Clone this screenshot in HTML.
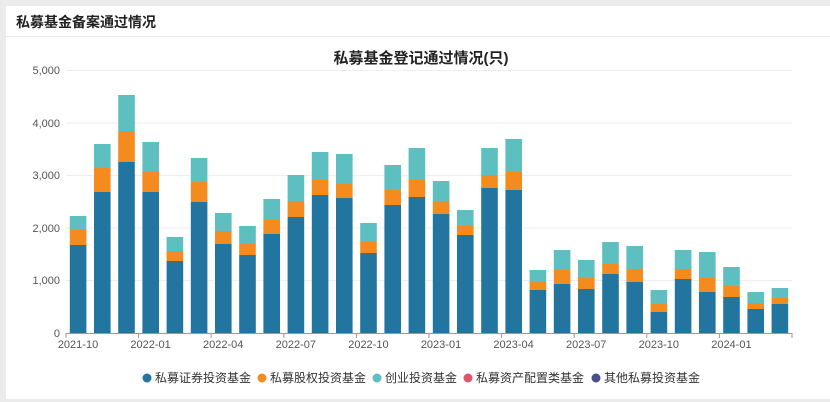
<!DOCTYPE html>
<html><head><meta charset="utf-8"><style>
body{margin:0;width:830px;height:402px;background:#ebebeb;font-family:"Liberation Sans","Noto Sans CJK SC",sans-serif;overflow:hidden}
.card{position:absolute;left:6px;top:6px;width:824px;height:393px;background:#fff}
.hd{position:absolute;left:16px;top:12px;font-size:14px;font-weight:bold;color:#222}
.line{position:absolute;left:6px;top:36px;width:824px;height:1px;background:#e6e6e6}
</style></head><body>
<div class="card"></div>
<div class="hd">私募基金备案通过情况</div>
<div class="line"></div>
<svg width="830" height="402" style="position:absolute;left:0;top:0" font-family="Liberation Sans, Noto Sans CJK SC, sans-serif">
<text x="421" y="63" text-anchor="middle" font-size="15" font-weight="bold" fill="#222">私募基金登记通过情况(只)</text>
<g stroke="#eeeeee" stroke-width="1">
<line x1="66" x2="792" y1="70.5" y2="70.5"/><line x1="66" x2="792" y1="123" y2="123"/><line x1="66" x2="792" y1="175.5" y2="175.5"/><line x1="66" x2="792" y1="228" y2="228"/><line x1="66" x2="792" y1="280.5" y2="280.5"/>
</g>
<g font-size="11" fill="#555" text-anchor="end">
<text x="60" y="74">5,000</text><text x="60" y="127">4,000</text><text x="60" y="179">3,000</text><text x="60" y="232">2,000</text><text x="60" y="284">1,000</text><text x="60" y="337">0</text>
</g>
<g id="bars"></g>
<line x1="66" x2="792" y1="333.5" y2="333.5" stroke="#999"/>
<g id="ticks" stroke="#999"></g>
<g font-size="11" fill="#555" text-anchor="middle" id="xl"></g>
<g font-size="12" fill="#333">
<circle cx="147" cy="378" r="4.5" fill="#21759f"/><text x="155" y="382">私募证券投资基金</text>
<circle cx="262" cy="378" r="4.5" fill="#f38b1f"/><text x="270" y="382">私募股权投资基金</text>
<circle cx="377" cy="378" r="4.5" fill="#5dbfbf"/><text x="385" y="382">创业投资基金</text>
<circle cx="468" cy="378" r="4.5" fill="#de5468"/><text x="476" y="382">私募资产配置类基金</text>
<circle cx="596" cy="378" r="4.5" fill="#4b4e8c"/><text x="604" y="382">其他私募投资基金</text>
</g>
</svg>
<script>
var d=[[245,230,216],[192,168,144],[162,131,95],[192,172,142],[261,251,237],[202,182,158],[244,231,213],[255,244,226],[234,220,199],[217,201,175],[195,180,152],[198,184,154],[253,242,223],[205,190,165],[197,180,148],[214,201,181],[235,226,210],[188,175,148],[190,172,139],[290,282,270],[284,270,250],[289,278,260],[274,264,242],[282,269,246],[312,304,290],[279,269,250],[292,278,252],[297,286,267],[309,303,292],[304,298,288]];
var ns="http://www.w3.org/2000/svg",g=document.getElementById('bars'),s=24.2,b=333;
function r(x,y,h,c){var e=document.createElementNS(ns,'rect');e.setAttribute('x',x);e.setAttribute('y',y);e.setAttribute('width',16.6);e.setAttribute('height',h);e.setAttribute('fill',c);g.appendChild(e);}
d.forEach(function(v,i){var x=66+i*s+3.8;r(x,v[0],b-v[0],'#21759f');r(x,v[1],v[0]-v[1],'#f38b1f');r(x,v[2],v[1]-v[2],'#5dbfbf');});
var t=document.getElementById('ticks'),xl=document.getElementById('xl'),L=['2021-10','2022-01','2022-04','2022-07','2022-10','2023-01','2023-04','2023-07','2023-10','2024-01'];
for(var i=0;i<=30;i+=3){var x=66+i*s;var l=document.createElementNS(ns,'line');l.setAttribute('x1',x);l.setAttribute('x2',x);l.setAttribute('y1',333);l.setAttribute('y2',338);t.appendChild(l);if(L[i/3]){var e=document.createElementNS(ns,'text');e.setAttribute('x',x+12);e.setAttribute('y',348);e.textContent=L[i/3];xl.appendChild(e);}}
var l=document.createElementNS(ns,'line');l.setAttribute('x1',792);l.setAttribute('x2',792);l.setAttribute('y1',333);l.setAttribute('y2',338);t.appendChild(l);
</script>
</body></html>
